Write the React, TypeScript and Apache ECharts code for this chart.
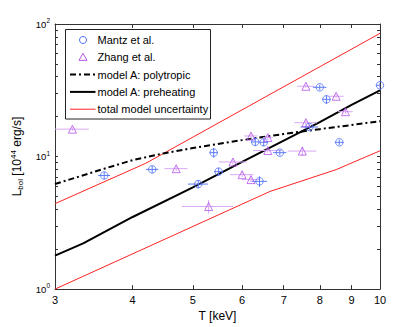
import React, { useEffect, useRef } from "react";
import * as echarts from "echarts";

// ---- data ----
const T_TICKS = [3, 4, 5, 6, 7, 8, 9, 10];
const L_LABELS = [1, 10, 100];
const L_TICKS = [1, 2, 3, 4, 5, 6, 7, 8, 9, 10, 20, 30, 40, 50, 60, 70, 80, 90, 100];

const LEGEND_NAMES = [
  "Mantz et al.",
  "Zhang et al.",
  "model A: polytropic",
  "model A: preheating",
  "total model uncertainty",
];

// [T, L, dT, dL]
const MANTZ = [
  [3.6, 7.2, 0.08, 0.45],
  [4.3, 8.0, 0.1, 0.5],
  [5.4, 10.7, 0.08, 0.9],
  [5.1, 6.2, 0.19, 0.45],
  [5.5, 7.7, 0.09, 0.5],
  [6.3, 12.9, 0.1, 0.9],
  [6.5, 12.8, 0.1, 0.8],
  [6.4, 6.5, 0.18, 0.6],
  [6.9, 10.7, 0.17, 0.5],
  [8.0, 33.3, 0.2, 1.5],
  [8.2, 27.0, 0.13, 2.0],
  [7.7, 16.7, 0.25, 0.8],
  [8.6, 12.8, 0.14, 0.6],
  [10.0, 34.5, 0.15, 1.5],
];

const ZHANG = [
  [3.2, 16.1, 0.2, 0.5],
  [4.7, 8.1, 0.2, 0.3],
  [5.3, 4.2, 0.5, 0.5],
  [5.8, 9.1, 0.3, 0.4],
  [6.0, 7.3, 0.26, 0.3],
  [6.2, 6.7, 0.2, 0.3],
  [6.2, 14.3, 0.15, 0.6],
  [6.6, 13.9, 0.12, 0.5],
  [6.6, 11.1, 0.35, 0.4],
  [7.5, 11.0, 0.4, 0.9],
  [7.6, 33.9, 0.24, 1.0],
  [7.6, 18.0, 0.32, 0.8],
  [8.5, 28.5, 0.24, 1.0],
  [8.8, 21.8, 0.24, 0.8],
];

const POLYTROPIC = [
  [3, 6.2], [3.6, 8.1], [4, 9.4], [4.5, 10.6], [5, 11.6], [6, 13.3],
  [7, 14.8], [8, 16.1], [9, 17.3], [10, 18.5],
];
const PREHEATING = [
  [3, 1.79], [3.33, 2.21], [4, 3.5], [5, 5.85], [6, 9.1], [7, 13.2],
  [8, 18.2], [9, 24.5], [10, 31.6],
];
const UNC_UPPER = [[3, 4.41], [4.2, 8.9], [10, 85]];
const UNC_LOWER = [[3, 1.0], [6.65, 5.45], [8.5, 7.97], [10, 11.05]];

// ---- styles ----
const FONT = "Liberation Sans, Arial, Helvetica, sans-serif";
const MANTZ_COLOR = "#4f6ef7";
const MANTZ_BAR = "#5f7cf8";
const ZHANG_COLOR = "#b455e8";
const ZHANG_BAR = "#d9a8f6";
const RED = "#ff2222";

function errorBars(color: string) {
  return (params: any, api: any) => {
    const t = api.value(0), l = api.value(1), dt = api.value(2), dl = api.value(3);
    const a = api.coord([t - dt, l]);
    const b = api.coord([t + dt, l]);
    const c = api.coord([t, l - dl]);
    const d = api.coord([t, l + dl]);
    return {
      type: "group",
      children: [
        { type: "line", shape: { x1: a[0], y1: a[1], x2: b[0], y2: b[1] }, style: { stroke: color, lineWidth: 1 } },
        { type: "line", shape: { x1: c[0], y1: c[1], x2: d[0], y2: d[1] }, style: { stroke: color, lineWidth: 1 } },
      ],
    };
  };
}

export default function App() {
  const ref = useRef<HTMLDivElement>(null);
  useEffect(() => {
    if (!ref.current) return;
    const chart = echarts.init(ref.current, null, { renderer: "svg" });
    const axisLine = { show: true, lineStyle: { color: "#333", width: 1 } };
    const xBase = { type: "log", min: 3, max: 10, splitLine: { show: false }, axisLine, minorTick: { show: false } };
    const yBase = { type: "log", min: 1, max: 100, splitLine: { show: false }, axisLine, minorTick: { show: false } };
    const legX = 70, legTextX = 97.5;
    const rows = [40, 57.3, 74.6, 91.9, 109.2];
    chart.setOption({
      animation: false,
      backgroundColor: "#fff",
      textStyle: { fontFamily: FONT },
      grid: { left: 55, right: 40, top: 24, bottom: 36 },
      xAxis: [
        {
          ...xBase,
          position: "bottom",
          name: "T [keV]",
          nameLocation: "middle",
          nameGap: 16,
          nameTextStyle: { fontSize: 12, color: "#000", fontFamily: FONT },
          axisTick: { show: true, inside: true, length: 4, customValues: T_TICKS, lineStyle: { color: "#333" } },
          axisLabel: { show: true, customValues: T_TICKS, fontSize: 11, color: "#000", margin: 5, fontFamily: FONT, formatter: (v: number) => String(Math.round(v)) },
        },
        {
          ...xBase,
          position: "top",
          axisTick: { show: true, inside: true, length: 4, customValues: T_TICKS, lineStyle: { color: "#333" } },
          axisLabel: { show: false },
        },
      ],
      yAxis: [
        {
          ...yBase,
          position: "left",
          name: "{n|L}{sub|bol}{n| [10}{sup|44}{n| erg/s]}",
          nameLocation: "middle",
          nameRotate: 90,
          nameGap: 27,
          nameTextStyle: {
            fontSize: 12, color: "#000", fontFamily: FONT,
            rich: {
              n: { fontSize: 12, color: "#000", fontFamily: FONT },
              sub: { fontSize: 8, color: "#000", fontFamily: FONT, padding: [7, 0, 0, 0] },
              sup: { fontSize: 8, color: "#000", fontFamily: FONT, padding: [0, 0, 7, 0] },
            },
          },
          axisTick: { show: true, inside: true, length: 3, customValues: L_TICKS, lineStyle: { color: "#333" } },
          axisLabel: {
            show: true, customValues: L_LABELS, margin: 5,
            formatter: (v: number) => `{b|10}{s|${Math.round(Math.log10(v))}}`,
            rich: {
              b: { fontSize: 9.5, color: "#000", fontFamily: FONT },
              s: { fontSize: 6.5, color: "#000", fontFamily: FONT, padding: [0, 0, 7, 0] },
            },
          },
        },
        {
          ...yBase,
          position: "right",
          axisTick: { show: true, inside: true, length: 3, customValues: L_TICKS, lineStyle: { color: "#333" } },
          axisLabel: { show: false },
        },
      ],
      series: [
        {
          name: "unc-upper", type: "line", data: UNC_UPPER, showSymbol: false, symbol: "none",
          lineStyle: { color: RED, width: 1 }, z: 2,
        },
        {
          name: "unc-lower", type: "line", data: UNC_LOWER, showSymbol: false, symbol: "none",
          lineStyle: { color: RED, width: 1 }, z: 2,
        },
        {
          name: "polytropic", type: "line", data: POLYTROPIC, showSymbol: false, symbol: "none",
          lineStyle: { color: "#000", width: 2, type: [6, 3, 2, 3] }, z: 3,
        },
        {
          name: "preheating", type: "line", data: PREHEATING, showSymbol: false, symbol: "none",
          lineStyle: { color: "#000", width: 2 }, z: 3,
        },
        {
          name: "zhang-err", type: "custom", data: ZHANG, encode: { x: 0, y: 1 },
          renderItem: errorBars(ZHANG_BAR), clip: true, z: 4,
        },
        {
          name: "mantz-err", type: "custom", data: MANTZ, encode: { x: 0, y: 1 },
          renderItem: errorBars(MANTZ_BAR), clip: true, z: 4,
        },
        {
          name: LEGEND_NAMES[1], type: "scatter", data: ZHANG.map((p) => [p[0], p[1]]),
          symbol: "triangle", symbolSize: 8, clip: false, z: 5,
          itemStyle: { color: "rgba(0,0,0,0)", borderColor: ZHANG_COLOR, borderWidth: 1 },
        },
        {
          name: LEGEND_NAMES[0], type: "scatter", data: MANTZ.map((p) => [p[0], p[1]]),
          symbol: "circle", symbolSize: 7.5, clip: false, z: 5,
          itemStyle: { color: "rgba(0,0,0,0)", borderColor: MANTZ_COLOR, borderWidth: 1 },
        },
      ],
      graphic: [
        {
          type: "group", z: 100,
          children: [
            { type: "rect", shape: { x: 65.5, y: 29.5, width: 145, height: 89.5 }, style: { fill: "#fff", stroke: "#222", lineWidth: 1 } },
            { type: "circle", shape: { cx: 83, cy: rows[0], r: 3.5 }, style: { fill: "none", stroke: MANTZ_COLOR, lineWidth: 1 } },
            { type: "polygon", shape: { points: [[83, rows[1] - 4], [79, rows[1] + 3], [87, rows[1] + 3]] }, style: { fill: "none", stroke: ZHANG_COLOR, lineWidth: 1 } },
            { type: "line", shape: { x1: legX, y1: rows[2], x2: 95.5, y2: rows[2] }, style: { stroke: "#000", lineWidth: 2, lineDash: [6, 3, 2, 3] } },
            { type: "line", shape: { x1: legX, y1: rows[3], x2: 95.5, y2: rows[3] }, style: { stroke: "#000", lineWidth: 2 } },
            { type: "line", shape: { x1: legX, y1: rows[4], x2: 95.5, y2: rows[4] }, style: { stroke: RED, lineWidth: 1 } },
            ...LEGEND_NAMES.map((name, i) => ({
              type: "text",
              x: legTextX,
              y: rows[i],
              style: { text: name, fill: "#000", fontSize: 11, fontFamily: FONT, verticalAlign: "middle", align: "left" },
            })),
          ],
        },
      ],
    });
    return () => chart.dispose();
  }, []);
  return <div ref={ref} style={{ position: "fixed", left: 0, top: 0, width: 420, height: 327 }} />;
}
